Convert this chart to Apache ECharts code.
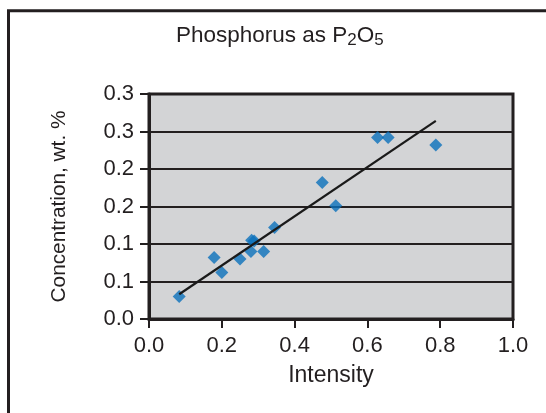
<!DOCTYPE html>
<html>
<head>
<meta charset="utf-8">
<script src="https://cdn.jsdelivr.net/npm/echarts@6/dist/echarts.min.js"></script>
<style>
  html, body { margin: 0; padding: 0; background: #fff; }
  #chart { width: 546px; height: 413px; }
</style>
</head>
<body>
<div id="chart"></div>
<script>
// Calibration samples: measured intensity vs. phosphorus concentration (wt. % P2O5)
const intensity = [0.083, 0.179, 0.200, 0.250, 0.280, 0.282, 0.289, 0.315, 0.345, 0.476, 0.513, 0.628, 0.657, 0.788];
const concentration = [0.030, 0.082, 0.062, 0.080, 0.090, 0.105, 0.104, 0.090, 0.122, 0.182, 0.151, 0.242, 0.242, 0.232];

const xTicks = [0, 0.2, 0.4, 0.6, 0.8, 1.0];
const yTicks = [0, 0.05, 0.10, 0.15, 0.20, 0.25, 0.30];

// Least-squares linear trend over the sampled range
function linearFit(xs, ys) {
  const n = xs.length;
  const mx = xs.reduce((a, b) => a + b, 0) / n;
  const my = ys.reduce((a, b) => a + b, 0) / n;
  let sxy = 0, sxx = 0;
  for (let i = 0; i < n; i++) {
    sxy += (xs[i] - mx) * (ys[i] - my);
    sxx += (xs[i] - mx) * (xs[i] - mx);
  }
  const slope = sxy / sxx;
  return { slope, intercept: my - slope * mx };
}
const fit = linearFit(intensity, concentration);
const xMin = Math.min(...intensity), xMax = Math.max(...intensity);
const trend = [xMin, xMax].map(x => [x, fit.intercept + fit.slope * x]);

const points = intensity.map((x, i) => [x, concentration[i]]);

// one-decimal labels, rounding halves up
const oneDecimal = v => (Math.round(v * 10 + 1e-9) / 10).toFixed(1);

const ink = '#231f20';
const chart = echarts.init(document.getElementById('chart'), null, { renderer: 'canvas' });
chart.setOption({
  animation: false,
  backgroundColor: '#ffffff',
  textStyle: { fontFamily: 'Liberation Sans, Arial, sans-serif', color: ink },
  title: {
    text: '{a|Phosphorus as P}{s|2}{a|O}{s|5}',
    left: 176,
    top: 23,
    padding: 0,
    textStyle: {
      fontWeight: 'normal',
      rich: {
        a: { fontSize: 22.5, lineHeight: 26, color: ink, fontWeight: 'normal', fontFamily: 'Liberation Sans', verticalAlign: 'middle' },
        s: { fontSize: 17, lineHeight: 8, color: ink, fontWeight: 'normal', fontFamily: 'Liberation Sans', verticalAlign: 'bottom' }
      }
    }
  },
  graphic: [{
    type: 'rect',
    silent: true,
    shape: { x: 8.5, y: 10.8, width: 700, height: 600 },
    style: { fill: 'none', stroke: ink, lineWidth: 3 }
  }],
  grid: {
    left: 149, right: 33, top: 94, bottom: 94,
    show: true,
    backgroundColor: '#d3d4d6',
    borderColor: ink,
    borderWidth: 3
  },
  xAxis: {
    type: 'value',
    min: xTicks[0], max: xTicks[xTicks.length - 1], interval: xTicks[1] - xTicks[0],
    name: 'Intensity',
    nameLocation: 'middle',
    nameGap: 45,
    nameTextStyle: { fontSize: 23, color: ink },
    axisLine: { show: true, onZero: false, lineStyle: { color: ink, width: 3 } },
    axisTick: { show: true, inside: false, length: 9, lineStyle: { color: ink, width: 2 } },
    axisLabel: { fontSize: 22, color: ink, margin: 16, formatter: v => v.toFixed(1) },
    splitLine: { show: false }
  },
  yAxis: {
    type: 'value',
    min: yTicks[0], max: yTicks[yTicks.length - 1], interval: yTicks[1] - yTicks[0],
    name: 'Concentration, wt. %',
    nameLocation: 'middle',
    nameGap: 79,
    nameRotate: 90,
    nameTextStyle: { fontSize: 20.8, color: ink },
    axisLine: { show: true, onZero: false, lineStyle: { color: ink, width: 3 } },
    axisTick: { show: true, inside: false, length: 9, lineStyle: { color: ink, width: 2 } },
    axisLabel: { fontSize: 22, color: ink, margin: 15, formatter: oneDecimal },
    splitLine: { show: true, lineStyle: { color: ink, width: 2 } }
  },
  series: [
    {
      type: 'scatter',
      data: points,
      symbol: 'diamond',
      symbolSize: 13,
      itemStyle: { color: '#0b70bb' },
      z: 3
    },
    {
      type: 'line',
      data: trend,
      showSymbol: false,
      symbol: 'none',
      lineStyle: { color: '#1a1a1a', width: 2.2 },
      z: 4
    }
  ]
});
</script>
</body>
</html>
